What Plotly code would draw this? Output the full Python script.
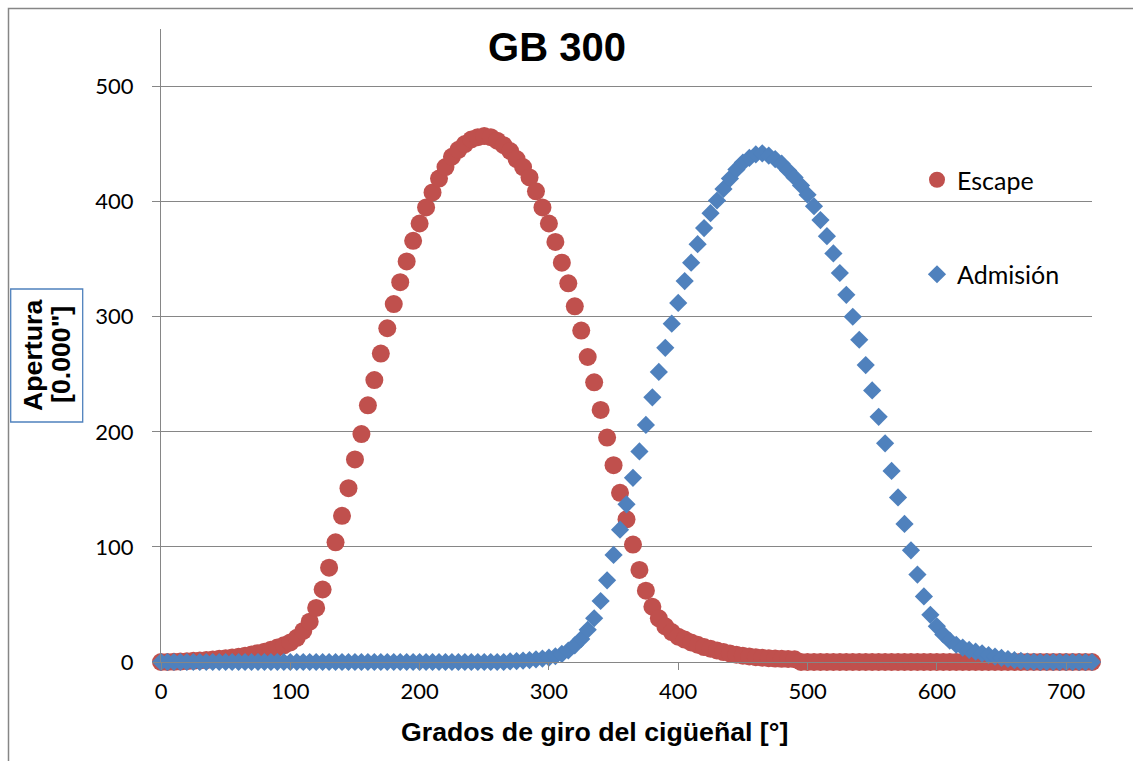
import plotly.graph_objects as go

# Crank angle grid [deg], one sample every 5 degrees over a full 720 deg cycle
angulo = list(range(0, 721, 5))

# Exhaust valve lift [0.000"]
escape = [
    0, 0, 0.2, 0.4, 0.7, 1.0, 1.3, 1.7, 2.2, 2.8,
    3.3, 3.9, 4.6, 5.5, 6.5, 7.7, 9.0, 10.7, 12.5, 14.5,
    17, 21, 27, 35, 47, 63, 82, 104, 127, 151,
    176, 198, 223, 245, 268, 290, 311, 330, 348, 366,
    381, 395, 408, 420, 430, 439, 445, 450, 454, 456,
    457, 456, 453, 449, 444, 437, 430, 421, 409, 395,
    381, 365, 347, 329, 309, 288, 265, 243, 219, 195,
    171, 147, 124, 102, 80, 62, 48, 38, 31, 26,
    22, 19.5, 17, 15, 13, 11.5, 10, 8.6, 7.4, 6.4,
    5.5, 4.8, 4.2, 3.7, 3.3, 3.0, 2.8, 2.6, 2.4, 0,
    0, 0, 0, 0, 0, 0, 0, 0, 0, 0,
    0, 0, 0, 0, 0, 0, 0, 0, 0, 0,
    0, 0, 0, 0, 0, 0, 0, 0, 0, 0,
    0, 0, 0, 0, 0, 0, 0, 0, 0, 0,
    0, 0, 0, 0, 0,
]

# Intake valve lift [0.000"]
admision = [
    0, 0, 0, 0, 0, 0, 0, 0, 0, 0,
    0, 0, 0, 0, 0, 0, 0, 0, 0, 0,
    0, 0, 0, 0, 0, 0, 0, 0, 0, 0,
    0, 0, 0, 0, 0, 0, 0, 0, 0, 0,
    0, 0, 0, 0, 0, 0, 0, 0, 0, 0,
    0, 0, 0, 0, 0.5, 0.8, 1.2, 1.7, 2.3, 3.0,
    3.8, 5, 7, 10, 14.5, 20, 28, 38, 53, 71,
    93, 115, 137, 160, 183, 206, 230, 252, 273, 294,
    312, 331, 347, 363, 377, 390, 401, 411, 420, 428,
    434, 438, 441, 442, 440, 437, 433, 427, 421, 414,
    406, 396, 384, 370, 355, 338, 319, 300, 280, 258,
    236, 213, 190, 166, 143, 120, 97, 76, 57, 41,
    31, 24, 18.5, 15, 12.5, 10.5, 9, 7.5, 6, 4.7,
    3.6, 2.6, 1.6, 0.9, 0.4, 0.2, 0, 0, 0, 0,
    0, 0, 0, 0, 0,
]

x_ticks = [0, 100, 200, 300, 400, 500, 600, 700]
y_ticks = [0, 100, 200, 300, 400, 500]

W, H = 1133, 761
PL, PR, PT, PB = 161, 1092, 29, 662
GRID = "#868686"
ROJO = "#C0504D"
AZUL = "#4F81BD"


def px_x(p):
    return (p - PL) / (PR - PL)


def px_y(p):
    return (PB - p) / (PB - PT)


fig = go.Figure()
fig.add_trace(go.Scatter(
    x=angulo, y=escape, name="Escape", mode="markers",
    marker=dict(symbol="circle", size=18, color=ROJO),
    cliponaxis=False, legendgroup="esc",
))
fig.add_trace(go.Scatter(
    x=angulo, y=admision, name="Admisión", mode="markers",
    marker=dict(symbol="diamond", size=14, color=AZUL),
    cliponaxis=False, legendgroup="adm",
))

tick_font = dict(family="Lato, Carlito, sans-serif", size=22, color="black")
bold_font = dict(family="Liberation Sans, Arial, sans-serif", size=26.7, color="black")

fig.update_layout(
    width=W, height=H,
    margin=dict(l=PL, r=W - PR, t=PT, b=H - PB, autoexpand=False),
    paper_bgcolor="white", plot_bgcolor="white",
    showlegend=True,
    legend=dict(
        x=px_x(917), y=px_y(157), xanchor="left", yanchor="top",
        font=dict(family="Lato, Carlito, sans-serif", size=25, color="black"),
        traceorder="grouped", tracegroupgap=59, itemwidth=30,
        bgcolor="rgba(0,0,0,0)",
    ),
    title=dict(
        text="<b>GB 300</b>", x=557 / W, y=1 - 47 / H,
        xref="container", yref="container",
        xanchor="center", yanchor="middle",
        font=dict(family="Liberation Sans, Arial, sans-serif", size=40, color="black"),
    ),
    xaxis=dict(
        range=[0, 720], tickvals=x_ticks, ticktext=[str(v) for v in x_ticks],
        showgrid=False, zeroline=False,
        showline=True, linecolor=GRID, linewidth=1.3,
        ticks="outside", ticklen=7, tickcolor=GRID, tickwidth=1.3,
        tickfont=tick_font, ticklabelstandoff=2,
    ),
    yaxis=dict(
        range=[0, 550], tickvals=y_ticks, ticktext=[str(v) for v in y_ticks],
        showgrid=True, gridcolor=GRID, gridwidth=1.3, zeroline=False,
        showline=True, linecolor=GRID, linewidth=1.3,
        ticks="outside", ticklen=8, tickcolor=GRID, tickwidth=1.3,
        tickfont=tick_font, ticklabelstandoff=14,
    ),
    shapes=[
        # chart area frame
        dict(type="rect", xref="paper", yref="paper",
             x0=px_x(8.5), x1=px_x(1145), y0=px_y(775), y1=px_y(8.5),
             line=dict(color=GRID, width=1.5), fillcolor="rgba(0,0,0,0)", layer="below"),
        # frame round the value-axis title
        dict(type="rect", xref="paper", yref="paper",
             x0=px_x(10.7), x1=px_x(82.7), y0=px_y(422), y1=px_y(289),
             line=dict(color=AZUL, width=1.3), fillcolor="white"),
    ],
    annotations=[
        dict(text="<b>Grados de giro del cigüeñal [°]</b>", xref="paper", yref="paper",
             x=px_x(594), y=px_y(732), xanchor="center", yanchor="middle",
             showarrow=False, font=bold_font),
        dict(text="<b>Apertura</b>", xref="paper", yref="paper",
             x=px_x(33), y=px_y(355), xanchor="center", yanchor="middle",
             textangle=-90, showarrow=False, font=bold_font),
        dict(text="<b>[0.000\"]</b>", xref="paper", yref="paper",
             x=px_x(61), y=px_y(355), xanchor="center", yanchor="middle",
             textangle=-90, showarrow=False, font=bold_font),
    ],
)

fig.write_html("out.html")
